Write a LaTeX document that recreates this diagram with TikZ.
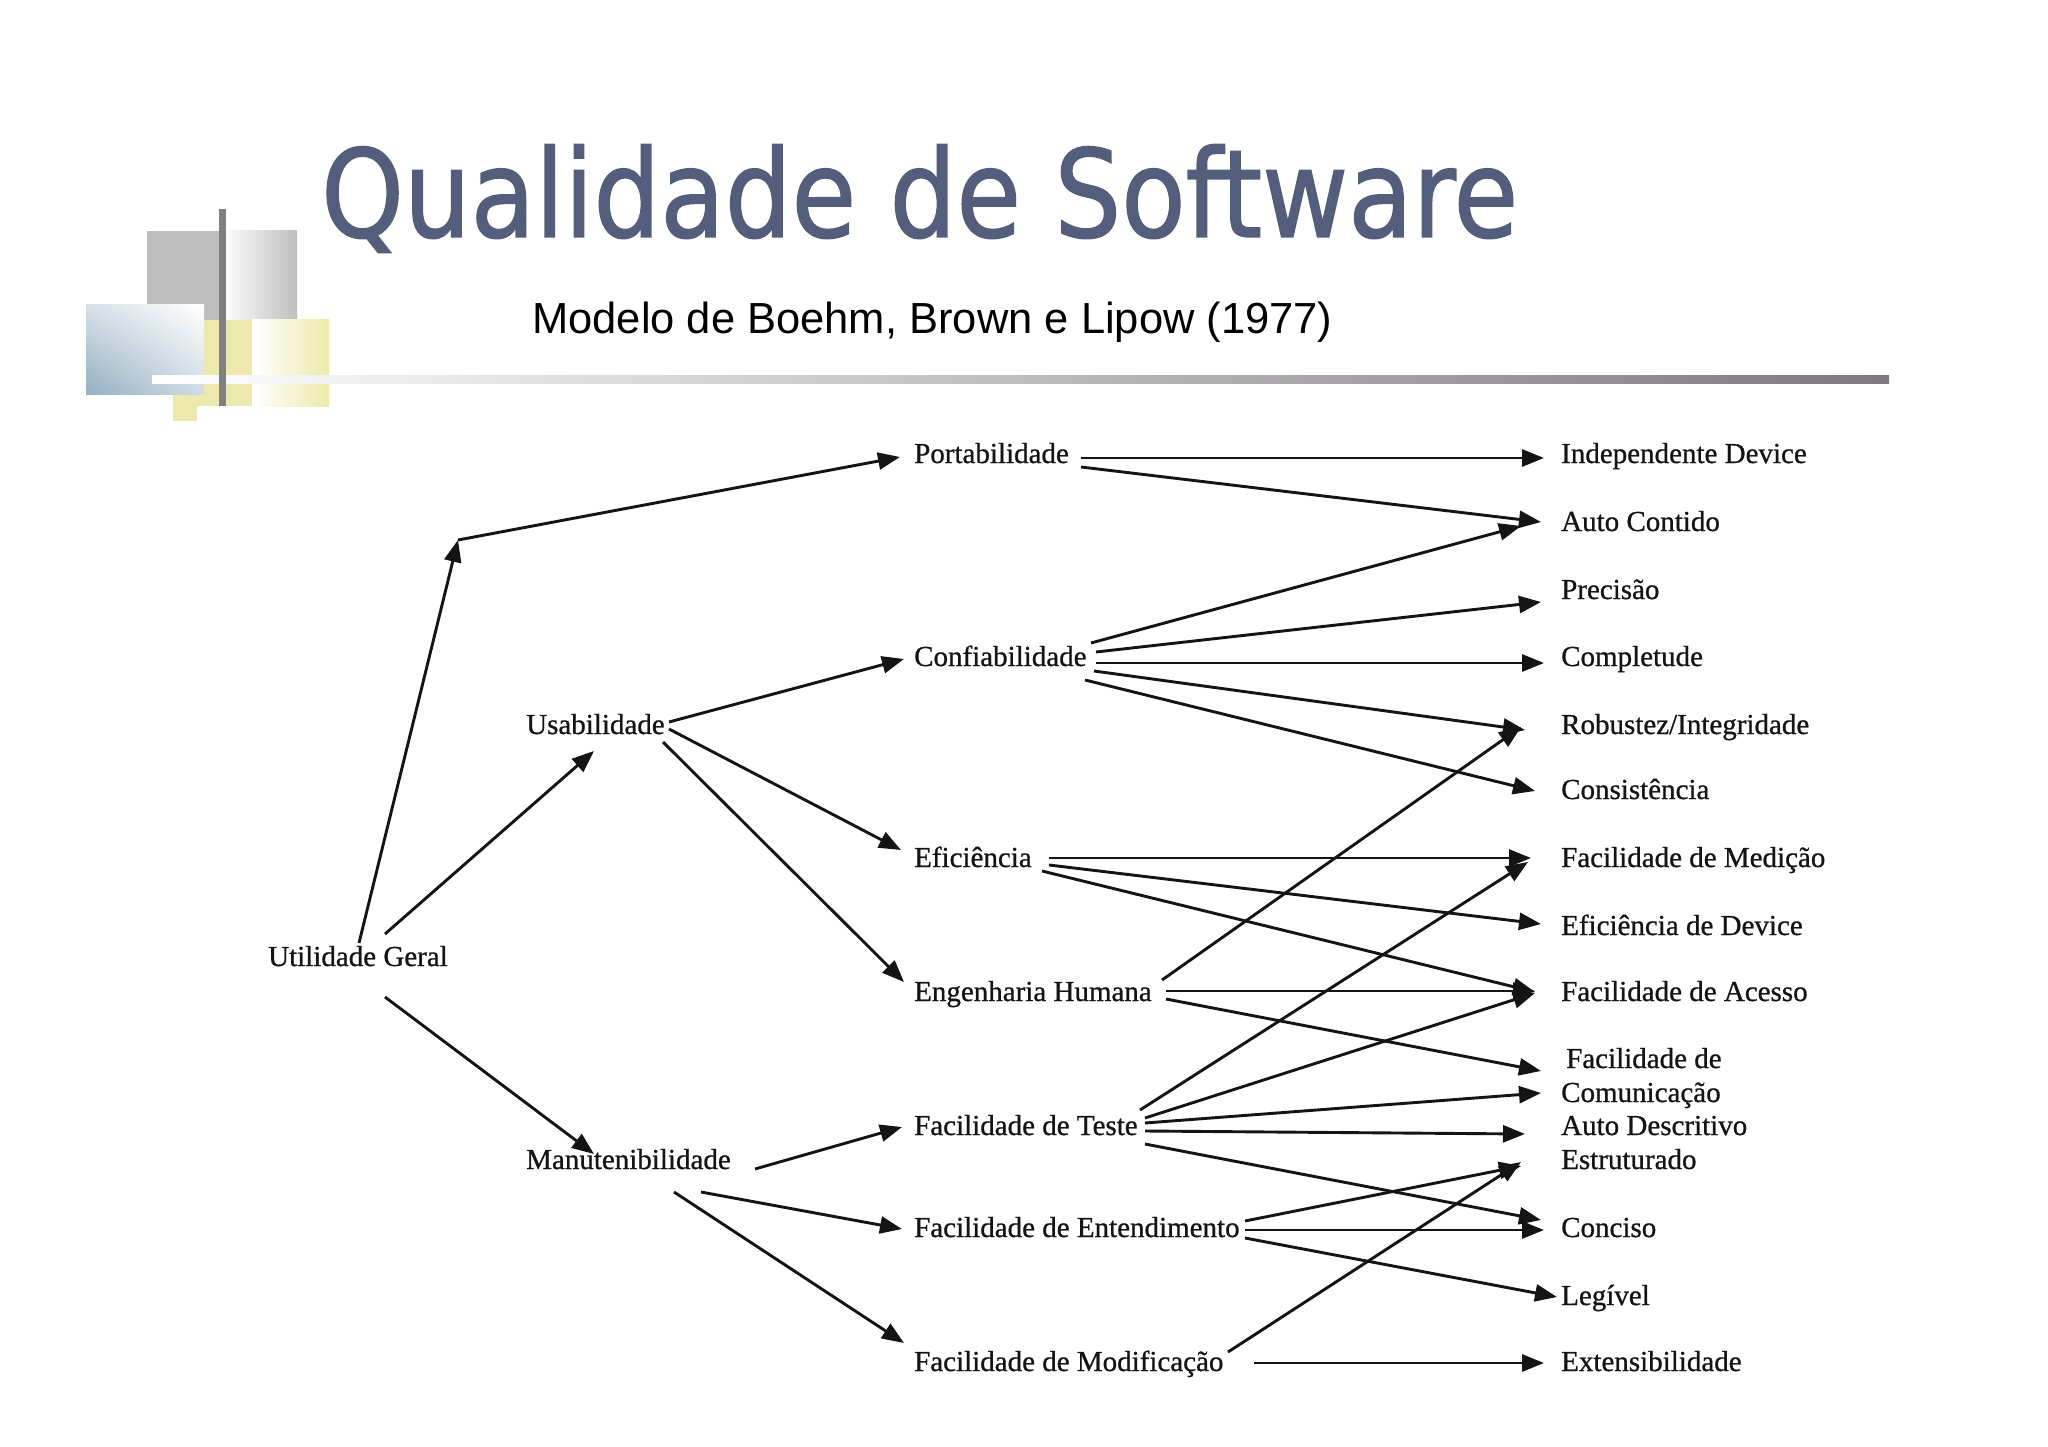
\documentclass[tikz,border=0pt]{standalone}
\usepackage{fontspec}
\setmainfont{Liberation Serif}[FakeBold=0.8]
\newfontfamily\serifnode[FakeBold=0.8]{Liberation Serif}
\newfontfamily\titlefont[FakeStretch=0.862,FakeBold=1.2]{DejaVu Sans}
\newfontfamily\subfont{Liberation Sans}
\usetikzlibrary{arrows.meta,shadings}
\definecolor{titleblue}{RGB}{82,94,124}
\definecolor{barGray}{RGB}{128,128,128}
\definecolor{sqGray}{RGB}{190,190,190}
\definecolor{sqBlue}{RGB}{148,175,194}
\definecolor{sqBlueTL}{RGB}{214,224,231}
\definecolor{sqBlueBR}{RGB}{208,220,228}
\definecolor{sqYellow}{RGB}{237,233,172}
\definecolor{lineGray}{RGB}{124,121,124}
\definecolor{ink}{RGB}{20,20,20}
\begin{document}
\begin{tikzpicture}[x=1pt,y=-1pt,
  lbl/.style={anchor=west, inner sep=0pt, text height=22pt, text depth=4pt,
              font=\serifnode\fontsize{29}{32}\selectfont, text=ink},
  arr/.style={-{Triangle[length=22pt,width=17pt]}, line width=2.9pt, draw=ink},
  ttl/.style={anchor=base west, inner sep=0pt, text=titleblue,
              font=\titlefont\fontsize{122}{130}\selectfont},
  subttl/.style={anchor=base west, inner sep=0pt, text=black,
              font=\subfont\fontsize{43.5}{50}\selectfont}]
\useasboundingbox (0,0) rectangle (2048,1447);
\fill[white] (0,0) rectangle (2048,1447);

% decoration
\fill[sqGray] (147,231) rectangle (223,320);
\shade[left color=white, right color=sqGray] (223,231) rectangle (297,320);
\fill[sqYellow] (173,320) rectangle (252,406);
\fill[sqYellow] (173,406) rectangle (197,421);
\shade[left color=white, right color=sqYellow] (252,320) rectangle (329,406);
\shade[lower left=sqBlue, upper right=white, upper left=sqBlueTL, lower right=sqBlueBR]
  (86,305) rectangle (204,394);
\fill[white] (152,376) rectangle (330,383);
\shade[left color=white, right color=lineGray] (152,375.5) rectangle (1889,383);
\fill[barGray] (219,209) rectangle (226,406);

% titles
\node[ttl] (title) at (321,237) {Qualidade de Software};
\node[subttl] (sub) at (532,334) {Modelo de Boehm, Brown e Lipow (1977)};

% left column
\node[lbl] (ug)  at (268,957)  {Utilidade Geral};
\node[lbl] (us)  at (526,725)  {Usabilidade};
\node[lbl] (man) at (526,1160) {Manutenibilidade};

% middle column
\node[lbl] (port) at (914,454)  {Portabilidade};
\node[lbl] (conf) at (914,657)  {Confiabilidade};
\node[lbl] (efic) at (914,858)  {Eficiência};
\node[lbl] (eng)  at (914,992)  {Engenharia Humana};
\node[lbl] (ftes) at (914,1126) {Facilidade de Teste};
\node[lbl] (fent) at (914,1228) {Facilidade de Entendimento};
\node[lbl] (fmod) at (914,1362) {Facilidade de Modificação};

% right column
\node[lbl] (ind)   at (1561,454)  {Independente Device};
\node[lbl] (auto)  at (1561,522)  {Auto Contido};
\node[lbl] (prec)  at (1561,590)  {Precisão};
\node[lbl] (comp)  at (1561,657)  {Completude};
\node[lbl] (rob)   at (1561,725)  {Robustez/Integridade};
\node[lbl] (cons)  at (1561,790)  {Consistência};
\node[lbl] (fmed)  at (1561,858)  {Facilidade de Medição};
\node[lbl] (efdev) at (1561,926)  {Eficiência de Device};
\node[lbl] (facc)  at (1561,992)  {Facilidade de Acesso};
\node[lbl] (fcomA) at (1566,1059) {Facilidade de};
\node[lbl] (fcomB) at (1561,1093) {Comunicação};
\node[lbl] (adesc) at (1561,1126) {Auto Descritivo};
\node[lbl] (estr)  at (1561,1160) {Estruturado};
\node[lbl] (conc)  at (1561,1228) {Conciso};
\node[lbl] (leg)   at (1561,1296) {Legível};
\node[lbl] (ext)   at (1561,1362) {Extensibilidade};

\coordinate (bend) at (458,540);

% left edges
\draw[arr] ([shift={(91,-14)}]ug.west) -- (bend);
\draw[arr] (bend) -- ([shift={(-14,3)}]port.west);
\draw[arr] ([shift={(117,-23)}]ug.west) -- ([shift={(68,26)}]us.west);
\draw[arr] ([shift={(117,40)}]ug.west) -- ([shift={(68,-6)}]man.west);
\draw[arr] ([shift={(143,-3)}]us.west) -- ([shift={(-10,2)}]conf.west);
\draw[arr] ([shift={(143,4)}]us.west) -- ([shift={(-13,-8)}]efic.west);
\draw[arr] ([shift={(137,17)}]us.west) -- ([shift={(-10,-10)}]eng.west);
\draw[arr] ([shift={(229,9)}]man.west) -- ([shift={(-12,1)}]ftes.west);
\draw[arr] ([shift={(175,32)}]man.west) -- ([shift={(-12,1)}]fent.west);
\draw[arr] ([shift={(148,32)}]man.west) -- ([shift={(-10,-19)}]fmod.west);

% right edges
\draw[arr] ([shift={(167,4)}]port.west) -- ([shift={(-17,4)}]ind.west);
\draw[arr] ([shift={(167,13)}]port.west) -- ([shift={(-20,0)}]auto.west);
\draw[arr] ([shift={(177,-14)}]conf.west) -- ([shift={(-40,4)}]auto.west);
\draw[arr] ([shift={(182,-5)}]conf.west) -- ([shift={(-20,12)}]prec.west);
\draw[arr] ([shift={(182,6)}]conf.west) -- ([shift={(-17,6)}]comp.west);
\draw[arr] ([shift={(180,14)}]conf.west) -- ([shift={(-36,5)}]rob.west);
\draw[arr] ([shift={(171,23)}]conf.west) -- ([shift={(-26,1)}]cons.west);
\draw[arr] ([shift={(135,0)}]efic.west) -- ([shift={(-30,0)}]fmed.west);
\draw[arr] ([shift={(135,7)}]efic.west) -- ([shift={(-20,-2)}]efdev.west);
\draw[arr] ([shift={(128,13)}]efic.west) -- ([shift={(-26,0)}]facc.west);
\draw[arr] ([shift={(248,-12)}]eng.west) -- ([shift={(-40,2)}]rob.west);
\draw[arr] ([shift={(252,-1)}]eng.west) -- ([shift={(-26,-1)}]facc.west);
\draw[arr] ([shift={(252,7)}]eng.west) -- ([shift={(-25,12)}]fcomA.west);
\draw[arr] ([shift={(226,-16)}]ftes.west) -- ([shift={(-33,4)}]fmed.west);
\draw[arr] ([shift={(231,-8)}]ftes.west) -- ([shift={(-26,1)}]facc.west);
\draw[arr] ([shift={(231,-3)}]ftes.west) -- ([shift={(-20,0)}]fcomB.west);
\draw[arr] ([shift={(231,5)}]ftes.west) -- ([shift={(-36,8)}]adesc.west);
\draw[arr] ([shift={(231,18)}]ftes.west) -- ([shift={(-20,-8)}]conc.west);
\draw[arr] ([shift={(331,-7)}]fent.west) -- ([shift={(-40,6)}]estr.west);
\draw[arr] ([shift={(331,2)}]fent.west) -- ([shift={(-17,2)}]conc.west);
\draw[arr] ([shift={(331,10)}]fent.west) -- ([shift={(-4,1)}]leg.west);
\draw[arr] ([shift={(314,-10)}]fmod.west) -- ([shift={(-40,2)}]estr.west);
\draw[arr] ([shift={(340,1)}]fmod.west) -- ([shift={(-17,1)}]ext.west);
\end{tikzpicture}
\end{document}
